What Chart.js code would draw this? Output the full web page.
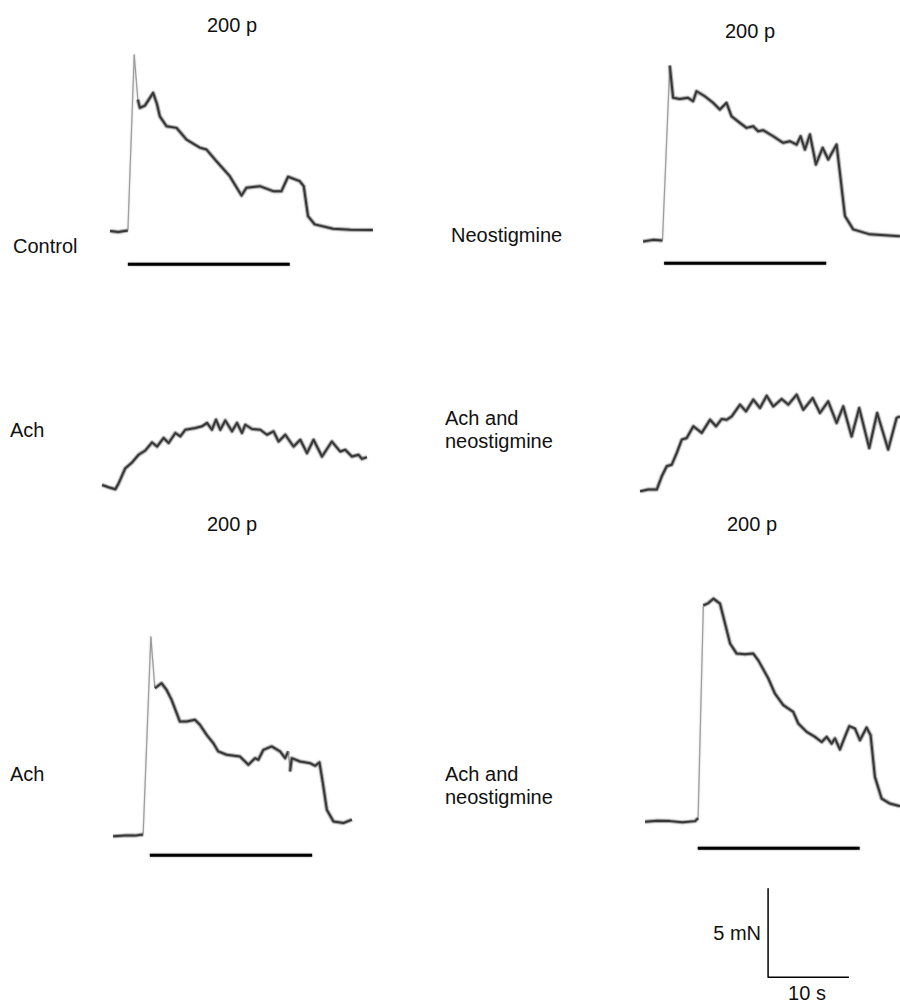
<!DOCTYPE html>
<html>
<head>
<meta charset="utf-8">
<script src="https://cdn.jsdelivr.net/npm/chart.js@4.4.1/dist/chart.umd.min.js"></script>
<style>
  body { margin: 0; background: #fff; }
  #fig { position: relative; width: 900px; height: 1006px; overflow: hidden; background: #fff; }
  #fig canvas { position: absolute; }
  .lbl { position: absolute; font-family: "Liberation Sans", Arial, sans-serif; font-size: 20px; line-height: 23px; color: #111; white-space: nowrap; }
</style>
</head>
<body>
<div id="fig">
  <div class="lbl" style="left:207px;top:14px">200 p</div>
  <div class="lbl" style="left:725px;top:20px">200 p</div>
  <div class="lbl" style="left:13px;top:235px">Control</div>
  <div class="lbl" style="left:451px;top:224px">Neostigmine</div>
  <div class="lbl" style="left:10px;top:419px">Ach</div>
  <div class="lbl" style="left:445px;top:407px">Ach and<br>neostigmine</div>
  <div class="lbl" style="left:207px;top:513px">200 p</div>
  <div class="lbl" style="left:727px;top:513px">200 p</div>
  <div class="lbl" style="left:10px;top:763px">Ach</div>
  <div class="lbl" style="left:445px;top:763px">Ach and<br>neostigmine</div>
  <div class="lbl" style="left:713px;top:922px;width:48px;text-align:right">5 mN</div>
  <div class="lbl" style="left:777px;top:982px;width:60px;text-align:center">10 s</div>
</div>
<script>
// time in s (0 = start of 200 pulse train), force in mN above resting baseline
const controlT = [-2.2, -1.2, 0, 0.78, 1.23, 1.48, 2.1, 2.72, 3.12, 3.58, 3.95, 4.78, 6.01, 7.25, 8.89, 9.72, 10.95, 12.59, 14.04, 14.65, 16.3, 17.94, 18.98, 19.79, 21.23, 21.73, 22.26, 23.09, 25.35, 27.5, 30.28]
const controlF = [0, -0.05, 0.04, 9.93, 7.4, 6.94, 7.06, 7.5, 7.78, 7.17, 6.46, 5.9, 5.81, 5.15, 4.7, 4.59, 3.93, 3.09, 2.0, 2.44, 2.53, 2.25, 2.25, 3.06, 2.81, 2.53, 0.84, 0.38, 0.13, 0.08, 0.06]

const neoT = [-2.59, -1.4, -0.2, 0.7, 1.11, 1.94, 2.96, 3.58, 4.0, 5.02, 6.05, 6.88, 7.7, 8.32, 9.35, 10.17, 10.99, 11.6, 12.22, 13.46, 14.69, 15.52, 16.35, 16.84, 17.37, 17.99, 18.73, 19.56, 20.25, 21.28, 21.69, 22.31, 23.33, 25.39, 29.09]
const neoF = [-0.06, 0.03, 0, 9.83, 8.02, 7.96, 8.02, 7.83, 8.39, 8.11, 7.74, 7.36, 7.74, 6.98, 6.61, 6.33, 6.42, 6.14, 6.2, 5.86, 5.49, 5.58, 5.39, 5.86, 5.11, 5.96, 4.27, 5.21, 4.55, 5.39, 3.8, 1.37, 0.62, 0.34, 0.24]

// Ach alone, no stimulation (t = 0 at onset of contracture)
const achT = [-2.01, -1.2, -0.37, 0.04, 0.86, 1.69, 2.5, 3.33, 4.16, 4.78, 5.59, 6.21, 7.04, 7.65, 8.27, 9.51, 10.33, 10.95, 11.56, 12.06, 12.59, 13.21, 14.04, 14.65, 15.27, 15.68, 16.51, 17.53, 18.36, 19.17, 19.79, 20.62, 21.64, 22.47, 23.3, 24.11, 25.15, 26.37, 27.41, 28.02, 28.85, 29.67, 30.09, 30.7]
const achF = [0.11, -0.02, -0.13, 0.21, 1.05, 1.37, 1.8, 2.04, 2.49, 2.26, 2.74, 2.46, 3.02, 2.83, 3.2, 3.3, 3.39, 3.58, 3.2, 3.76, 3.2, 3.72, 3.11, 3.58, 3.02, 3.48, 3.24, 3.2, 2.92, 3.11, 2.54, 2.92, 2.26, 2.64, 1.89, 2.64, 1.7, 2.54, 1.98, 2.08, 1.7, 1.8, 1.57, 1.67]

const achNeoT = [-2.22, -1.2, -0.16, 0.46, 1.07, 1.69, 2.31, 2.93, 3.54, 4.36, 5.4, 6.42, 7.16, 7.86, 8.48, 9.1, 10.12, 10.86, 11.77, 12.59, 13.42, 14.23, 15.27, 16.09, 17.12, 17.94, 19.1, 20.0, 21.02, 22.06, 22.88, 23.91, 24.85, 26.09, 27.07, 28.43, 29.47, 29.88]
const achNeoF = [-0.1, 0, 0, 0.75, 1.31, 1.4, 2.06, 2.81, 2.9, 3.56, 3.19, 3.93, 3.56, 3.97, 3.93, 4.12, 4.78, 4.4, 5.06, 4.59, 5.28, 4.68, 5.1, 4.78, 5.34, 4.49, 5.15, 4.31, 4.96, 3.75, 4.68, 2.99, 4.59, 2.34, 4.31, 2.25, 4.03, 4.12]

const achStimT = [-4.53, -3.09, -1.85, -0.83, 0.12, 0.62, 1.44, 2.06, 2.68, 3.7, 4.53, 5.56, 6.17, 7.0, 7.81, 8.43, 9.47, 11.11, 12.14, 12.96, 13.37, 13.99, 15.02, 16.05, 16.67, 17.07, 17.28, 17.49, 18.52, 19.75, 20.37, 20.9, 21.32, 21.81, 22.63, 23.86, 24.9]
const achStimF = [0, 0.04, 0.04, 0.1, 11.24, 8.34, 8.62, 8.24, 7.68, 6.46, 6.46, 6.56, 6.28, 5.71, 5.25, 4.78, 4.59, 4.49, 4.03, 4.4, 4.31, 4.87, 5.06, 4.78, 4.4, 4.78, 3.65, 4.4, 4.21, 4.12, 3.97, 4.16, 3.0, 1.5, 0.84, 0.75, 0.94]

const achNeoStimT = [-6.51, -5.0, -3.42, -1.9, -0.33, 0.04, 0.69, 1.27, 1.93, 2.75, 3.37, 3.99, 4.81, 5.84, 6.86, 7.48, 8.72, 9.54, 10.57, 11.8, 12.42, 13.46, 14.48, 15.31, 15.93, 16.54, 16.95, 17.57, 18.18, 18.72, 19.42, 20.04, 20.86, 21.36, 21.89, 22.72, 23.74, 24.98]
const achNeoStimF = [0, 0.06, 0.04, -0.03, 0.04, 0.21, 12.17, 12.29, 12.55, 12.27, 11.15, 10.03, 9.46, 9.42, 9.46, 9.08, 8.06, 7.21, 6.56, 6.18, 5.53, 5.06, 4.78, 4.49, 4.78, 4.4, 4.69, 4.07, 4.78, 5.38, 5.25, 4.59, 5.3, 4.87, 2.53, 1.31, 1.03, 0.88]

const stimT = [0, 20]          // 200 pulses, duration of the bar
const scaleT = [0, 0, 10]      // 10 s
const scaleF = [5, 0, 0]       // 5 mN

const PX_PER_S = 8.1
const PX_PER_MN = 17.8

const steep = (ctx) => {
  const a = ctx.p0.parsed, b = ctx.p1.parsed
  return Math.abs((b.y - a.y) / (b.x - a.x)) > 5
}

function pts(t, f) {
  return t.map((x, i) => ({ x: x, y: f[i] }))
}

// soft edge on the recorder traces
const fuzz = {
  id: 'fuzz',
  beforeDatasetDraw(chart, args) {
    if (args.meta.dataset && args.meta.dataset.options.borderWidth > 2.5) {
      chart.ctx.save()
      chart.ctx.shadowColor = 'rgba(0,0,0,0.45)'
      chart.ctx.shadowBlur = 2
    }
  },
  afterDatasetDraw(chart, args) {
    if (args.meta.dataset && args.meta.dataset.options.borderWidth > 2.5) chart.ctx.restore()
  },
}

function panel(p) {
  const xMin = Math.min(...p.t, 0) - 1
  const xMax = Math.max(...p.t, 0) + 1
  const yMin = Math.min(...p.f, p.barY === undefined ? 0 : p.barY) - 0.6
  const yMax = Math.max(...p.f) + 0.6
  const w = Math.round((xMax - xMin) * PX_PER_S)
  const h = Math.round((yMax - yMin) * PX_PER_MN)
  const canvas = document.createElement('canvas')
  canvas.width = w
  canvas.height = h
  canvas.style.width = w + 'px'
  canvas.style.height = h + 'px'
  canvas.style.left = Math.round(p.ox + xMin * PX_PER_S) + 'px'
  canvas.style.top = Math.round(p.oy - yMax * PX_PER_MN) + 'px'
  document.getElementById('fig').appendChild(canvas)

  const datasets = []
  if (p.t.length > 3) {
    datasets.push({
      data: pts(p.t, p.f),
      borderColor: 'rgba(80,80,80,0.4)',
      borderWidth: 4,
      segment: {
        borderColor: (ctx) => (steep(ctx) ? 'rgba(170,170,170,0.35)' : undefined),
        borderWidth: (ctx) => (steep(ctx) ? 1.5 : undefined),
      },
    })
    datasets.push({
      data: pts(p.t, p.f),
      borderColor: '#303030',
      borderWidth: 2,
      segment: {
        borderColor: (ctx) => (steep(ctx) ? '#a0a0a0' : undefined),
        borderWidth: (ctx) => (steep(ctx) ? 1 : undefined),
      },
    })
  } else {
    datasets.push({ data: pts(p.t, p.f), borderColor: '#000', borderWidth: 1.5 })
  }
  if (p.barY !== undefined) {
    datasets.push({
      data: pts(stimT, stimT.map(() => p.barY)),
      borderColor: '#000',
      borderWidth: 3,
    })
  }

  new Chart(canvas, {
    type: 'scatter',
    data: { datasets: datasets },
    plugins: [fuzz],
    options: {
      responsive: false,
      animation: false,
      layout: { padding: 0 },
      showLine: true,
      elements: { point: { radius: 0, hoverRadius: 0 }, line: { tension: 0, borderJoinStyle: 'round', borderCapStyle: 'butt' } },
      plugins: { legend: { display: false }, tooltip: { enabled: false } },
      scales: {
        x: { type: 'linear', min: xMin, max: xMax, display: false },
        y: { type: 'linear', min: yMin, max: yMax, display: false },
      },
    },
  })
}

panel({ t: controlT, f: controlF, ox: 128, oy: 231.7, barY: -1.87 })
panel({ t: neoT, f: neoF, ox: 664.3, oy: 241, barY: -1.29 })
panel({ t: achT, f: achF, ox: 118, oy: 487 })
panel({ t: achNeoT, f: achNeoF, ox: 658, oy: 490 })
panel({ t: achStimT, f: achStimF, ox: 150, oy: 836.7, barY: -1.07 })
panel({ t: achNeoStimT, f: achNeoStimF, ox: 697.7, oy: 821.7, barY: -1.49 })
panel({ t: scaleT, f: scaleF, ox: 768.3, oy: 977.3 })
</script>
</body>
</html>
